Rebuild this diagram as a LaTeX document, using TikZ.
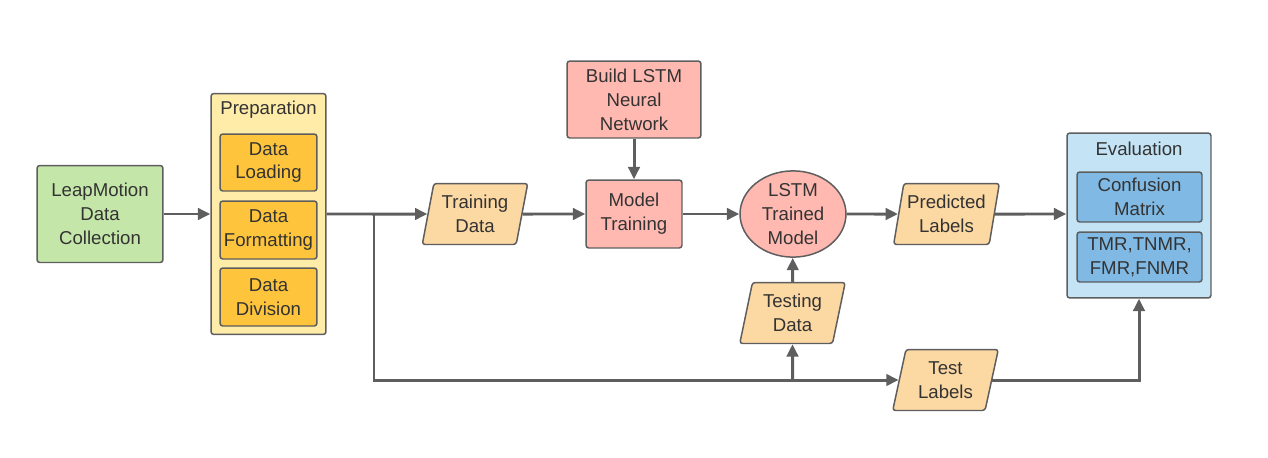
\documentclass[tikz,border=0pt]{standalone}
\usepackage{fontspec}
\setmainfont{Liberation Sans}
\usetikzlibrary{arrows.meta,positioning,shapes.geometric}
\definecolor{FlowLine}{HTML}{5E5E5E}
\definecolor{FlowText}{HTML}{333333}
\definecolor{FlowGreen}{HTML}{C5E6A9}
\definecolor{FlowCream}{HTML}{FFECA9}
\definecolor{FlowAmber}{HTML}{FEC43C}
\definecolor{FlowPeach}{HTML}{FCD8A3}
\definecolor{FlowSalmon}{HTML}{FFB9B1}
\definecolor{FlowSky}{HTML}{C4E4F6}
\definecolor{FlowBlue}{HTML}{80B9E3}
\tikzset{
  box/.style={rounded corners=1.6pt,draw=FlowLine,line width=0.85pt,align=center,
    text=FlowText,inner sep=0pt,font=\fontsize{10.6}{13.6}\selectfont},
  iobox/.style={box,trapezium,trapezium left angle=76,trapezium right angle=104,
    trapezium stretches=true,fill=FlowPeach,minimum width=2.12cm,minimum height=1.22cm},
  caption/.style={text=FlowText,inner sep=0pt,font=\fontsize{10.6}{13.6}\selectfont},
  flow/.style={-{Triangle[length=7pt,width=6.5pt]},FlowLine,line width=1.7pt},
}
\begin{document}
\begin{tikzpicture}[x=0.02cm,y=-0.02cm]
    \useasboundingbox (0,0) rectangle (1268,457);
    % data collection and preparation
    \node[box,fill=FlowGreen,minimum width=2.52cm,minimum height=1.94cm] (leap) at (100,214)
      {LeapMotion\\Data\\Collection};
    \node[box,fill=FlowCream,minimum width=2.30cm,minimum height=4.82cm] (prep) at (268.5,214) {};
    \node[caption] (prepTitle) at (268.5,110) {Preparation};
    \node[box,fill=FlowAmber,minimum width=1.94cm,minimum height=1.14cm] (load) at (268.5,162.5)
      {Data\\Loading};
    \node[box,fill=FlowAmber,minimum width=1.94cm,minimum height=1.16cm] (fmt) at (268.5,230)
      {Data\\Formatting};
    \node[box,fill=FlowAmber,minimum width=1.94cm,minimum height=1.16cm] (div) at (268.5,297)
      {Data\\Division};
    % model
    \node[iobox] (trainData) at (475,214) {Training\\Data};
    \node[box,fill=FlowSalmon,minimum width=2.68cm,minimum height=1.54cm] (build) at (634,99.5)
      {Build LSTM\\Neural\\Network};
    \node[box,fill=FlowSalmon,minimum width=1.92cm,minimum height=1.36cm] (train) at (634,214)
      {Model\\Training};
    \node[box,ellipse,fill=FlowSalmon,minimum width=2.12cm,minimum height=1.50cm] (lstm) at (793,214)
      {LSTM\\Trained\\Model};
    \node[iobox] (pred) at (946.5,214) {Predicted\\Labels};
    \node[iobox] (testData) at (792.5,313) {Testing\\Data};
    \node[iobox] (testLbl) at (945.5,380) {Test\\Labels};
    % evaluation
    \node[box,fill=FlowSky,minimum width=2.88cm,minimum height=3.30cm] (eval) at (1139,215.5) {};
    \node[caption] (evalTitle) at (1139,149) {Evaluation};
    \node[box,fill=FlowBlue,minimum width=2.50cm,minimum height=1.0cm] (conf) at (1139.5,197)
      {Confusion\\Matrix};
    \node[box,fill=FlowBlue,minimum width=2.50cm,minimum height=1.0cm] (rates) at (1139.5,257)
      {TMR,TNMR,\\FMR,FNMR};
    \coordinate (split) at (374,214);
    \coordinate (tap) at (testData |- testLbl);
    % connectors
    \draw[flow] (leap) -- (prep);
    \draw[flow] (prep) -- (trainData);
    \draw[flow] (trainData) -- (train);
    \draw[flow] (build) -- (train);
    \draw[flow] (train) -- (lstm);
    \draw[flow] (lstm) -- (pred);
    \draw[flow] (pred) -- (pred -| eval.west);
    \draw[flow] (split) |- (testLbl);
    \draw[flow] (tap) -- (testData);
    \draw[flow] (testData) -- (lstm);
    \draw[flow] (testLbl) -| (eval);
  \end{tikzpicture}
\end{document}
